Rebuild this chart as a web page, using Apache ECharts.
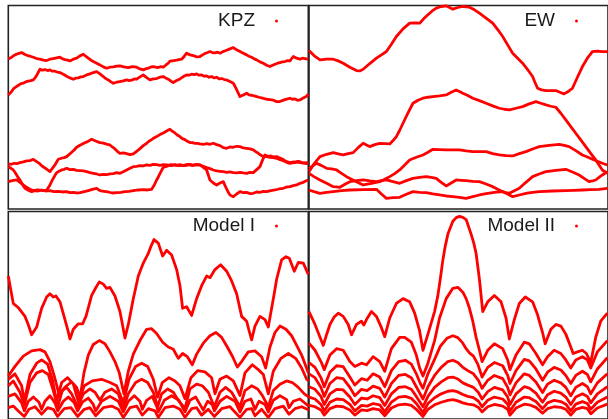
<!DOCTYPE html>
<html>
<head>
<meta charset="utf-8">
<script src="https://cdn.jsdelivr.net/npm/echarts@6/dist/echarts.min.js"></script>
<style>
  html, body { margin: 0; padding: 0; background: #fff; }
  #chart { width: 608px; height: 419px; }
</style>
</head>
<body>
<div id="chart"></div>
<script>
// Interface profiles h(x) for four growth models, several snapshots each.
// x: lattice position (0..900), h: height.

const panelNames = ['KPZ', 'EW', 'Model I', 'Model II'];

// ---- KPZ ----
const kpz1 = [[0,450],[10,455],[20,462],[30,466],[40,469],[50,463],[58,460],[66,458],[75,455],[85,451],[95,449],[105,446],[115,445],[125,449],[135,451],[145,453],[155,455],[163,450],[170,448],[178,446],[185,444],[195,449],[205,452],[215,459],[225,464],[232,458],[240,452],[248,446],[255,442],[265,437],[275,432],[285,426],[295,422],[305,425],[315,426],[325,428],[335,429],[347,426],[360,424],[372,427],[385,425],[395,420],[405,417],[412,420],[420,422],[428,426],[435,427],[442,425],[450,424],[458,427],[465,425],[472,431],[480,437],[485,443],[490,447],[497,445],[505,446],[512,448],[520,449],[528,458],[535,467],[545,462],[555,460],[565,456],[575,457],[583,462],[590,466],[598,469],[605,472],[612,469],[620,468],[628,470],[635,467],[645,472],[655,476],[665,480],[675,484],[685,477],[695,472],[705,467],[715,462],[722,458],[730,455],[738,450],[745,447],[755,441],[765,437],[775,431],[785,427],[793,431],[800,434],[808,437],[815,439],[822,441],[830,442],[838,445],[845,444],[850,451],[855,457],[860,454],[865,452],[870,450],[875,449],[882,452],[890,451],[895,448],[900,449]];
const kpz2 = [[0,342],[5,347],[10,352],[15,360],[20,365],[26,368],[32,372],[38,376],[45,377],[52,381],[60,383],[68,385],[75,387],[80,393],[85,400],[90,410],[95,419],[102,416],[110,418],[118,415],[125,417],[132,413],[140,413],[148,410],[155,409],[165,404],[175,398],[185,393],[195,389],[202,392],[210,393],[218,396],[225,397],[235,402],[245,405],[255,409],[265,412],[270,408],[275,405],[280,400],[285,397],[292,391],[300,387],[308,381],[315,377],[325,380],[335,382],[345,384],[355,387],[362,385],[370,386],[378,390],[385,389],[390,393],[395,396],[400,400],[405,402],[410,397],[415,394],[420,390],[425,387],[435,390],[445,391],[455,395],[465,397],[472,393],[480,389],[488,383],[495,379],[505,385],[515,390],[525,397],[535,402],[542,401],[550,404],[558,403],[565,405],[572,401],[580,402],[588,398],[595,399],[602,395],[610,397],[618,393],[625,395],[632,390],[640,391],[648,388],[655,387],[660,383],[665,382],[670,378],[675,377],[680,368],[685,358],[690,347],[695,337],[700,341],[705,342],[710,346],[715,347],[722,342],[730,341],[738,339],[745,337],[752,335],[760,333],[768,331],[775,329],[785,328],[795,326],[805,322],[815,322],[822,325],[830,328],[838,330],[845,332],[852,329],[860,330],[868,326],[875,327],[882,331],[888,330],[895,338],[900,345]];
const kpz3 = [[0,135],[9,134],[18,137],[26,136],[35,139],[45,141],[55,144],[65,145],[75,149],[80,145],[85,142],[90,138],[95,135],[102,128],[110,123],[118,117],[125,112],[130,119],[135,124],[140,132],[145,141],[150,149],[156,150],[162,153],[168,154],[175,157],[182,163],[190,170],[197,176],[205,185],[215,191],[228,198],[238,202],[250,209],[256,205],[262,204],[268,201],[275,199],[282,198],[290,196],[297,194],[305,192],[312,186],[320,180],[327,173],[335,167],[345,168],[355,166],[365,163],[375,165],[385,173],[395,181],[405,190],[415,197],[422,203],[430,208],[437,213],[445,217],[455,223],[465,228],[475,234],[485,239],[492,233],[500,228],[507,222],[515,217],[522,211],[530,208],[537,203],[545,199],[552,199],[560,197],[567,197],[575,195],[585,194],[595,196],[605,194],[615,197],[625,193],[635,190],[645,184],[655,182],[665,186],[675,185],[685,188],[695,187],[705,183],[715,182],[725,180],[735,177],[742,172],[750,167],[758,161],[765,157],[775,157],[785,155],[795,154],[805,152],[815,148],[825,145],[835,140],[845,137],[852,138],[860,139],[868,143],[875,142],[882,138],[888,140],[895,136],[900,137]];
const kpz4 = [[0,127],[8,122],[15,117],[20,110],[25,102],[30,94],[35,87],[42,74],[50,62],[55,59],[60,56],[65,54],[70,52],[80,55],[90,54],[100,57],[108,55],[115,57],[120,64],[125,72],[130,83],[135,92],[140,101],[145,109],[152,113],[160,117],[168,119],[175,122],[185,118],[195,119],[205,116],[215,115],[225,114],[235,112],[245,109],[255,107],[265,105],[275,102],[285,104],[295,103],[305,105],[315,106],[325,109],[335,107],[345,112],[355,117],[365,122],[375,127],[385,128],[395,130],[405,129],[415,132],[425,131],[435,134],[445,133],[455,131],[465,133],[475,132],[490,130],[500,133],[512,130],[525,131],[538,134],[550,131],[562,133],[575,132],[585,128],[595,124],[605,121],[615,117],[625,114],[635,113],[645,112],[655,110],[665,111],[675,109],[685,108],[695,110],[705,108],[715,107],[725,110],[735,109],[740,113],[745,118],[750,123],[755,127],[762,145],[770,162],[779,158],[788,159],[796,156],[805,157],[815,153],[825,148],[835,142],[845,139],[857,141],[870,140],[885,138],[900,139]];
const kpz5 = [[0,82],[6,84],[12,85],[18,88],[25,87],[32,82],[40,76],[48,70],[55,65],[60,62],[65,59],[70,56],[75,55],[87,57],[100,56],[112,54],[125,55],[137,52],[150,53],[162,51],[175,52],[185,49],[195,50],[205,48],[215,49],[228,52],[240,55],[252,59],[265,62],[270,58],[275,55],[287,53],[300,51],[312,48],[325,49],[338,50],[350,52],[362,53],[375,55],[390,57],[405,58],[418,57],[430,59],[438,72],[445,87],[450,96],[455,106],[460,116],[465,125],[472,127],[480,130],[488,133],[495,132],[505,131],[515,133],[525,130],[535,131],[545,134],[555,131],[565,133],[575,132],[580,128],[585,125],[590,121],[595,117],[600,102],[605,87],[610,82],[615,78],[620,74],[625,72],[630,75],[635,78],[640,81],[645,82],[650,71],[655,60],[660,50],[665,42],[670,39],[675,37],[680,41],[685,45],[690,49],[695,52],[705,49],[715,50],[725,46],[735,47],[745,51],[755,50],[765,53],[775,52],[788,55],[800,57],[812,60],[825,62],[835,66],[845,67],[855,70],[865,72],[875,77],[885,80],[892,84],[900,87]];

// ---- EW ----
const ew1 = [[0,475],[15,460],[33,447],[53,449],[73,449],[88,444],[103,437],[123,425],[143,415],[153,414],[163,419],[183,436],[203,452],[218,462],[233,472],[248,494],[263,517],[283,540],[303,557],[318,558],[333,557],[345,570],[358,582],[370,593],[383,602],[398,607],[413,609],[423,604],[433,599],[448,604],[463,607],[473,606],[483,605],[498,597],[513,587],[533,572],[553,557],[568,538],[583,517],[598,492],[613,467],[628,452],[643,437],[658,418],[673,397],[680,380],[688,362],[700,357],[713,355],[728,355],[743,355],[755,350],[768,345],[780,352],[793,362],[808,395],[823,427],[838,452],[853,472],[868,473],[883,472],[900,472]];
const ew2 = [[0,112],[15,135],[33,157],[53,164],[73,169],[88,165],[103,162],[118,166],[133,169],[148,184],[163,197],[173,192],[183,187],[198,193],[213,197],[228,196],[243,195],[253,205],[263,217],[273,236],[283,257],[298,288],[313,317],[328,326],[343,332],[358,335],[373,337],[393,339],[413,342],[428,350],[443,357],[453,352],[463,347],[478,340],[493,332],[513,325],[533,317],[553,309],[573,302],[588,299],[603,297],[623,302],[643,307],[663,315],[683,322],[698,317],[713,312],[728,308],[743,305],[758,287],[773,267],[788,247],[803,227],[818,207],[833,187],[848,167],[863,147],[873,132],[883,117],[898,107]];
const ew3 = [[0,122],[12,130],[23,137],[38,130],[53,122],[68,120],[83,117],[98,107],[113,97],[138,84],[163,72],[188,77],[213,82],[228,89],[243,97],[258,106],[273,117],[288,132],[303,147],[323,155],[343,162],[358,170],[373,179],[393,178],[413,177],[433,177],[453,177],[473,174],[493,172],[513,172],[533,172],[553,166],[573,162],[593,160],[613,159],[633,166],[653,172],[673,180],[693,187],[723,191],[753,194],[768,191],[783,187],[803,175],[823,162],[838,156],[853,149],[868,143],[883,137],[898,132]];
const ew4 = [[0,107],[15,97],[33,87],[53,77],[73,67],[83,66],[93,65],[108,74],[123,82],[143,85],[163,87],[183,84],[203,82],[218,85],[233,87],[253,82],[273,77],[293,85],[313,92],[333,95],[353,97],[368,95],[383,92],[398,80],[413,69],[428,78],[443,87],[458,86],[473,85],[493,83],[513,82],[533,75],[553,67],[568,59],[583,52],[593,49],[603,47],[618,55],[633,62],[653,80],[673,97],[693,105],[713,112],[743,116],[773,119],[793,111],[813,102],[828,92],[843,82],[853,84],[863,87],[873,95],[883,102],[898,112]];
const ew5 = [[0,57],[15,52],[33,47],[53,50],[73,52],[98,55],[123,57],[163,58],[203,59],[218,45],[233,32],[253,34],[273,35],[293,44],[313,52],[333,50],[353,49],[373,45],[393,42],[413,39],[433,37],[453,35],[473,32],[493,37],[513,42],[533,46],[553,49],[568,51],[583,52],[598,45],[613,37],[633,42],[653,47],[673,50],[693,52],[733,54],[773,55],[798,56],[823,57],[848,58],[873,59],[898,62]];

// ---- Model I ----
const m1a = [[0,443],[7,403],[15,358],[30,345],[50,318],[60,292],[70,261],[85,285],[100,343],[115,378],[125,388],[135,378],[143,381],[155,363],[170,308],[178,278],[185,248],[195,278],[210,295],[223,295],[233,318],[242,352],[250,383],[262,406],[273,425],[285,418],[295,405],[305,408],[320,381],[335,333],[342,295],[350,251],[360,293],[368,335],[375,373],[383,410],[390,443],[398,465],[405,483],[420,513],[428,535],[437,556],[450,545],[463,505],[475,523],[490,508],[505,463],[515,413],[523,343],[535,348],[550,321],[565,373],[580,413],[595,443],[605,438],[620,463],[637,478],[655,458],[670,428],[685,388],[700,318],[715,303],[722,275],[730,245],[740,288],[755,318],[770,308],[780,285],[790,343],[798,390],[805,433],[820,493],[833,503],[843,498],[858,458],[870,485],[885,483],[900,448]];
const m1b = [[0,133],[20,163],[45,195],[70,211],[95,215],[110,208],[125,178],[138,133],[153,73],[165,92],[175,103],[190,115],[205,98],[215,65],[227,143],[240,198],[255,231],[273,243],[290,233],[305,208],[320,178],[333,143],[347,78],[360,148],[375,201],[395,243],[415,278],[430,280],[445,265],[463,238],[480,223],[495,216],[510,188],[523,203],[537,193],[552,168],[565,201],[585,235],[605,258],[623,268],[640,253],[657,223],[673,193],[687,161],[700,178],[720,208],[740,211],[760,193],[772,158],[785,223],[800,268],[815,288],[833,278],[850,258],[865,228],[880,198],[900,143]];
const m1c = [[0,123],[20,140],[40,103],[48,56],[65,138],[85,173],[100,183],[118,170],[132,123],[145,56],[160,113],[178,128],[195,108],[210,53],[228,103],[252,118],[280,123],[305,113],[325,103],[345,50],[362,123],[382,163],[400,173],[418,163],[435,123],[448,68],[462,113],[482,128],[500,118],[515,103],[530,63],[548,128],[568,150],[590,146],[610,128],[620,78],[635,123],[655,133],[675,118],[695,73],[710,143],[732,168],[750,153],[765,138],[780,78],[795,148],[818,188],[840,203],[862,188],[880,158],[895,123],[902,118]];
const m1d = [[0,103],[15,118],[35,83],[48,43],[65,113],[85,143],[102,150],[120,138],[135,88],[148,38],[162,88],[175,98],[190,78],[208,38],[225,78],[245,93],[260,83],[275,58],[290,83],[310,93],[330,78],[345,33],[360,78],[382,113],[400,123],[418,113],[435,83],[448,38],[460,78],[478,93],[495,83],[510,58],[530,33],[545,93],[565,108],[582,103],[600,83],[618,38],[635,83],[652,98],[670,83],[695,38],[710,88],[730,103],[748,93],[762,73],[780,38],[795,88],[815,108],[835,118],[852,113],[870,98],[888,78],[902,68]];
const m1e = [[0,70],[20,78],[40,50],[48,25],[60,55],[75,68],[92,52],[100,30],[110,55],[125,72],[140,50],[148,25],[165,55],[180,68],[198,50],[208,25],[222,52],[240,65],[255,45],[262,25],[280,55],[305,70],[330,55],[345,22],[360,55],[378,72],[395,55],[402,30],[415,58],[432,70],[445,40],[450,22],[468,58],[490,72],[512,58],[530,22],[545,58],[562,68],[578,40],[585,28],[598,55],[612,45],[618,25],[635,55],[655,70],[680,55],[695,22],[710,55],[728,62],[740,30],[752,55],[770,45],[780,22],[795,58],[815,72],[835,60],[842,35],[855,55],[875,62],[895,45],[902,40]];
const m1f = [[0,35],[15,40],[30,25],[48,8],[62,30],[80,38],[100,15],[118,35],[135,30],[148,8],[168,32],[188,35],[208,8],[228,30],[245,35],[262,10],[285,35],[310,40],[330,30],[345,5],[365,35],[385,40],[402,12],[420,32],[440,25],[450,5],[470,35],[495,40],[515,30],[530,5],[550,32],[565,35],[580,12],[600,30],[618,8],[640,32],[665,38],[695,5],[715,30],[730,32],[740,10],[760,30],[780,5],[800,32],[825,40],[842,15],[860,32],[880,38],[902,28]];

// ---- Model II ----
const m2a = [[0,333],[18,293],[43,228],[53,262],[63,293],[75,315],[88,328],[103,318],[118,293],[128,261],[143,293],[158,303],[165,291],[173,308],[188,333],[203,318],[218,283],[228,255],[243,313],[263,358],[283,373],[303,363],[318,328],[333,273],[343,213],[358,263],[378,333],[388,383],[396,440],[403,493],[410,535],[418,573],[433,613],[443,624],[453,628],[463,625],[473,618],[488,573],[496,545],[503,513],[513,433],[523,333],[538,363],[558,383],[578,363],[593,313],[603,248],[618,308],[633,358],[651,378],[673,363],[688,323],[703,268],[711,233],[728,278],[743,293],[758,288],[773,263],[788,223],[795,203],[808,208],[823,213],[835,203],[848,175],[863,253],[878,303],[898,328]];
const m2b = [[0,235],[18,213],[36,178],[46,153],[63,198],[83,218],[103,213],[123,178],[138,163],[158,173],[173,168],[193,193],[213,178],[228,148],[248,218],[273,253],[288,253],[308,238],[323,198],[333,158],[343,133],[358,173],[378,243],[393,313],[413,373],[433,405],[448,408],[463,393],[473,373],[483,343],[493,303],[503,253],[513,213],[521,178],[538,213],[558,233],[583,218],[598,183],[605,153],[623,198],[648,238],[663,233],[683,203],[703,168],[718,193],[738,213],[758,203],[773,183],[788,158],[803,183],[823,193],[838,183],[848,158],[868,208],[898,243]];
const m2c = [[0,175],[18,160],[36,128],[46,100],[63,145],[83,165],[103,162],[123,130],[138,105],[158,125],[175,120],[193,140],[213,130],[228,100],[248,150],[270,178],[290,182],[308,170],[323,140],[335,110],[343,95],[358,140],[378,185],[395,225],[415,250],[433,258],[448,252],[463,235],[473,218],[483,205],[495,195],[508,170],[521,130],[538,160],[558,175],[583,165],[598,135],[605,110],[623,150],[648,185],[663,180],[683,155],[703,120],[718,145],[738,160],[758,152],[773,135],[788,110],[803,135],[823,148],[838,138],[848,115],[868,155],[898,190]];
const m2d = [[0,140],[18,128],[36,98],[46,70],[63,110],[83,128],[103,125],[123,98],[138,72],[158,92],[175,88],[193,102],[213,95],[228,68],[248,110],[270,135],[290,138],[308,128],[323,100],[343,62],[358,100],[378,135],[398,160],[418,178],[433,182],[448,175],[463,160],[478,150],[495,140],[510,120],[521,95],[538,120],[558,135],[583,125],[598,98],[605,75],[623,112],[648,140],[663,135],[683,115],[703,82],[718,108],[738,120],[758,112],[773,98],[788,72],[803,98],[823,110],[838,100],[848,78],[868,112],[898,140]];
const m2e = [[0,100],[18,92],[36,70],[46,45],[63,78],[83,92],[103,90],[123,68],[138,45],[158,65],[175,62],[193,72],[213,66],[228,42],[248,78],[270,98],[290,100],[308,92],[323,70],[343,38],[358,70],[378,98],[398,115],[418,128],[433,130],[448,124],[463,112],[478,105],[495,98],[510,82],[521,62],[538,85],[558,98],[583,90],[598,68],[605,45],[623,78],[648,100],[663,96],[683,80],[703,52],[718,75],[738,86],[758,80],[773,68],[788,45],[803,68],[823,78],[838,70],[848,50],[868,78],[898,100]];
const m2f = [[0,68],[18,62],[36,45],[46,25],[63,52],[83,62],[103,60],[123,45],[138,25],[158,42],[175,40],[193,48],[213,44],[228,22],[248,52],[270,68],[290,70],[308,64],[323,48],[343,20],[358,48],[378,66],[398,78],[418,86],[433,88],[448,84],[463,76],[478,70],[495,66],[510,55],[521,38],[538,58],[558,68],[583,62],[598,46],[605,25],[623,52],[648,68],[663,66],[683,54],[703,32],[718,50],[738,58],[758,54],[773,46],[788,25],[803,46],[823,54],[838,48],[848,30],[868,52],[898,68]];
const m2g = [[0,42],[18,38],[36,28],[46,12],[63,32],[83,40],[103,38],[123,28],[138,12],[158,28],[175,26],[193,32],[213,28],[228,10],[248,34],[270,44],[290,46],[308,42],[323,30],[343,8],[358,30],[378,44],[398,52],[418,58],[433,60],[448,56],[463,50],[478,46],[495,44],[510,36],[521,22],[538,38],[558,45],[583,40],[598,30],[605,12],[623,34],[648,46],[663,44],[683,36],[703,18],[718,32],[738,38],[758,36],[773,30],[788,12],[803,30],[823,36],[838,32],[848,16],[868,34],[898,46]];

const panelCurves = [
  [kpz1, kpz2, kpz3, kpz4, kpz5],
  [ew1, ew2, ew3, ew4, ew5],
  [m1a, m1b, m1c, m1d, m1e, m1f],
  [m2a, m2b, m2c, m2d, m2e, m2f, m2g]
];
const xMax = 900;
const yMaxTop = 610;
const yMaxBottom = 643;

const RED = '#ff0000';
const BORDER = '#222222';

const grids = [
  { left: 8.3, top: 5.5, width: 300, height: 203.5 },
  { left: 309, top: 5.5, width: 300, height: 203.5 },
  { left: 8.3, top: 211.5, width: 300, height: 214.5 },
  { left: 309, top: 211.5, width: 300, height: 214.5 }
].map(g => Object.assign(g, {
  show: true, borderColor: BORDER, borderWidth: 1.6, backgroundColor: 'transparent'
}));

const xAxes = grids.map((g, i) => ({
  type: 'value', gridIndex: i, min: 0, max: xMax, show: false
}));
const yAxes = grids.map((g, i) => ({
  type: 'value', gridIndex: i, min: 0, max: i < 2 ? yMaxTop : yMaxBottom, show: false
}));

const series = [];
panelCurves.forEach((curves, p) => {
  curves.forEach(c => {
    series.push({
      type: 'line',
      name: panelNames[p],
      xAxisIndex: p,
      yAxisIndex: p,
      data: c,
      showSymbol: false,
      symbol: 'none',
      clip: true,
      lineStyle: { color: RED, width: 2.8, join: 'round' },
      itemStyle: { color: RED },
      emphasis: { disabled: true },
      z: 3
    });
  });
});

const legendPos = [
  { right: 330, top: 11.5 },
  { right: 30, top: 11.5 },
  { right: 330, top: 216.5 },
  { right: 30, top: 216.5 }
];
const legends = panelNames.map((n, i) => Object.assign({
  data: [n],
  orient: 'horizontal',
  align: 'right',
  icon: 'circle',
  itemWidth: 3,
  itemHeight: 3,
  selectedMode: false,
  padding: 0,
  textStyle: {
    fontFamily: 'Liberation Sans, Arial, sans-serif',
    fontSize: 19,
    color: '#1a1a1a',
    padding: [0, 15, 0, 0]
  }
}, legendPos[i]));

const chart = echarts.init(document.getElementById('chart'), null, { renderer: 'canvas' });
chart.setOption({
  animation: false,
  backgroundColor: '#ffffff',
  grid: grids,
  xAxis: xAxes,
  yAxis: yAxes,
  legend: legends,
  series: series
});
</script>
</body>
</html>
